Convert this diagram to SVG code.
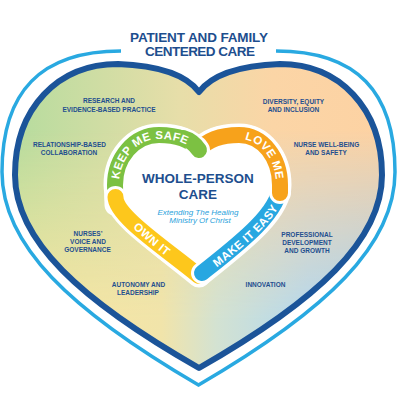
<svg xmlns="http://www.w3.org/2000/svg" width="400" height="400" viewBox="0 0 400 400">
<style>
.lbl{font-family:"Liberation Sans",Arial,sans-serif;font-weight:bold;font-size:6.5px;fill:#1f4f8f;text-anchor:middle}
.ttl{font-family:"Liberation Sans",Arial,sans-serif;font-weight:bold;font-size:13.5px;fill:#1d4e8e;text-anchor:middle}
.ctr{font-family:"Liberation Sans",Arial,sans-serif;font-weight:bold;font-size:13.5px;fill:#1d4e8e;text-anchor:middle}
.sub{font-family:"Liberation Sans",Arial,sans-serif;font-style:italic;font-size:8px;fill:#2a9fdb;text-anchor:middle}
.ring{font-family:"Liberation Sans",Arial,sans-serif;font-weight:bold;font-size:11.5px;fill:#fff;text-anchor:middle;letter-spacing:0.4px}
.seg{fill:none;stroke-width:16;stroke-linecap:round;stroke-linejoin:round}
.wseg{fill:none;stroke:#fff;stroke-width:22;stroke-linecap:round;stroke-linejoin:round}
</style>
<defs>
<linearGradient id="gTop" x1="15" y1="0" x2="382" y2="0" gradientUnits="userSpaceOnUse">
<stop offset="0" stop-color="#b6dc9e"/><stop offset="0.45" stop-color="#e7dea9"/><stop offset="0.7" stop-color="#fbd5a6"/><stop offset="1" stop-color="#fdd2a3"/>
</linearGradient>
<linearGradient id="gBot" x1="15" y1="0" x2="382" y2="0" gradientUnits="userSpaceOnUse">
<stop offset="0" stop-color="#f9e6a0"/><stop offset="0.4" stop-color="#f1e4aa"/><stop offset="0.55" stop-color="#d3e2d2"/><stop offset="0.8" stop-color="#b3d8ef"/><stop offset="1" stop-color="#a5d3f3"/>
</linearGradient>
<linearGradient id="gV" x1="0" y1="130" x2="0" y2="320" gradientUnits="userSpaceOnUse">
<stop offset="0" stop-color="#000"/><stop offset="1" stop-color="#fff"/>
</linearGradient>
<mask id="mB" maskUnits="userSpaceOnUse" x="0" y="0" width="400" height="400">
<rect width="400" height="400" fill="url(#gV)"/>
</mask>
<path id="darkHeart" d="M 199 92 C 190 80, 170 66, 118 64 C 58 64, 15 108, 15 175 C 15 240, 80 300, 199 368 C 318 300, 382 240, 382 175 C 382 108, 339 64, 280 64 C 228 66, 208 80, 199 92 Z"/>
<path id="innerHeart" d="M 199 150 C 207 140, 219 135, 239 135 C 263 135, 280 158, 280 185 C 280 215, 233 248, 199 276 C 165 248, 115 215, 115 185 C 115 158, 134 135, 159 135 C 179 135, 191 140, 199 150 Z"/>
<path id="tpGreen" d="M 119 210 L 119 185 C 119 160, 136 139, 159 139 C 177 139, 188 144, 195 151"/>
<path id="tpOrange" d="M 203 152 C 210 143, 220 139, 239 139 C 261 139, 276 160, 276 185 L 276 200"/>
<path id="tpBlue" d="M 201 280 C 236 252, 284 219, 284 188"/>
<path id="tpYellow" d="M 111 188 C 111 219, 162 252, 197 280"/>
</defs>

<g id="outer-heart">
<path d="M 121 51 C 40 51, 2 92, 2 172 C 2 245, 70 310, 198.5 385 C 327 310, 395 245, 395 172 C 395 92, 357 51, 276 51" fill="none" stroke="#29a9e1" stroke-width="3.5"/>
<use href="#darkHeart" fill="url(#gTop)"/>
<use href="#darkHeart" fill="url(#gBot)" mask="url(#mB)"/>
<use href="#darkHeart" fill="none" stroke="#1b5499" stroke-width="6" stroke-linejoin="round"/>
</g>

<g id="title">
<text class="ttl" x="199" y="42" textLength="138">PATIENT AND FAMILY</text>
<text class="ttl" x="200" y="56" textLength="110">CENTERED CARE</text>
</g>

<g id="labels">
<g id="research"><text class="lbl" x="109" y="103">RESEARCH AND</text><text class="lbl" x="109" y="111.5">EVIDENCE-BASED PRACTICE</text></g>
<g id="diversity"><text class="lbl" x="293.5" y="104">DIVERSITY, EQUITY</text><text class="lbl" x="293.5" y="112">AND INCLUSION</text></g>
<g id="relationship"><text class="lbl" x="69.5" y="147">RELATIONSHIP-BASED</text><text class="lbl" x="69" y="155">COLLABORATION</text></g>
<g id="wellbeing"><text class="lbl" x="326.5" y="147">NURSE WELL-BEING</text><text class="lbl" x="326" y="155">AND SAFETY</text></g>
<g id="voice"><text class="lbl" x="88" y="236">NURSES’</text><text class="lbl" x="88" y="244">VOICE AND</text><text class="lbl" x="87.5" y="252">GOVERNANCE</text></g>
<g id="professional"><text class="lbl" x="307" y="237">PROFESSIONAL</text><text class="lbl" x="307" y="245">DEVELOPMENT</text><text class="lbl" x="307" y="253">AND GROWTH</text></g>
<g id="autonomy"><text class="lbl" x="138.5" y="287">AUTONOMY AND</text><text class="lbl" x="138" y="295">LEADERSHIP</text></g>
<g id="innovation"><text class="lbl" x="265.5" y="287">INNOVATION</text></g>
</g>

<g id="inner-heart">
<use href="#innerHeart" fill="#fff" stroke="#fff" stroke-width="23" stroke-linejoin="round"/>
<g id="seg-green">
<path class="wseg" d="M 115.5 205 L 115 185 C 115 158, 134 135, 159 135 C 179 135, 191 140, 199 150"/>
<path class="seg" stroke="#7cc142" d="M 115.5 205 L 115 185 C 115 158, 134 135, 159 135 C 179 135, 191 140, 199 150"/>
</g>
<g id="seg-yellow">
<path class="wseg" d="M 205 271 L 199 276 C 165 248, 115.5 216, 115.5 197"/>
<path class="seg" stroke="#fdc71c" d="M 205 271 L 199 276 C 165 248, 115.5 216, 115.5 197"/>
</g>
<g id="seg-blue">
<path class="wseg" d="M 280 185 C 280 213, 236 246, 202 273"/>
<path class="seg" stroke="#28a7e1" d="M 280 185 C 280 213, 236 246, 202 273"/>
</g>
<g id="seg-orange">
<path class="wseg" d="M 199 150 C 207 140, 219 135, 239 135 C 263 135, 280 158, 280 185 L 280 193"/>
<path class="seg" stroke="#f7a21b" d="M 199 150 C 207 140, 219 135, 239 135 C 263 135, 280 158, 280 185 L 280 193"/>
</g>
<g id="seg-green-end">
<path class="wseg" d="M 196.5 146.5 L 199 150"/>
<path class="seg" stroke="#7cc142" d="M 183 138 C 190 140, 195 144, 199 150"/>
</g>
<g id="ring-texts">
<text class="ring"><textPath href="#tpGreen" startOffset="47">KEEP</textPath></text>
<text class="ring"><textPath href="#tpGreen" startOffset="76">ME</textPath></text>
<text class="ring"><textPath href="#tpGreen" startOffset="105">SAFE</textPath></text>
<text class="ring"><textPath href="#tpOrange" startOffset="62">LOVE</textPath></text>
<text class="ring"><textPath href="#tpOrange" startOffset="91">ME</textPath></text>
<text class="ring"><textPath href="#tpBlue" startOffset="38">MAKE</textPath></text>
<text class="ring"><textPath href="#tpBlue" startOffset="64.5">IT</textPath></text>
<text class="ring"><textPath href="#tpBlue" startOffset="90">EASY</textPath></text>
<text class="ring"><textPath href="#tpYellow" startOffset="61">OWN</textPath></text>
<text class="ring"><textPath href="#tpYellow" startOffset="85">IT</textPath></text>
</g>
</g>

<g id="center">
<text class="ctr" x="198" y="183">WHOLE-PERSON</text>
<text class="ctr" x="198" y="199">CARE</text>
<text class="sub" x="198" y="215">Extending The Healing</text>
<text class="sub" x="200" y="223">Ministry Of Christ</text>
</g>
</svg>
